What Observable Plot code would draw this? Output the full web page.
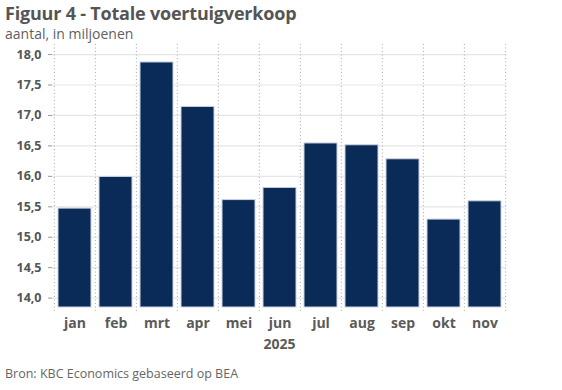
<!DOCTYPE html>
<html>
<head>
<meta charset="utf-8">
<script src="https://cdn.jsdelivr.net/npm/d3@7"></script>
<script src="https://cdn.jsdelivr.net/npm/@observablehq/plot@0.6"></script>
<style>
  html, body { margin: 0; padding: 0; background: #fff; }
  #wrap { width: 562px; height: 390px; position: relative; overflow: hidden; font-family: "Open Sans", sans-serif; }
  #title { height: 25px; padding-left: 5px; font-size: 18px; font-weight: 700; color: #555; line-height: 24px; padding-top: 1px; box-sizing: border-box; letter-spacing: -0.2px; }
  #subtitle { height: 19px; padding-left: 5px; font-size: 14px; color: #5f5f5f; line-height: 18px; box-sizing: border-box; }
  #caption { position: absolute; left: 5px; top: 366px; font-size: 12.5px; color: #666; line-height: 16px; }
  svg { display: block; }
</style>
</head>
<body>
<div id="wrap">
  <div id="title">Figuur 4 - Totale voertuigverkoop</div>
  <div id="subtitle">aantal, in miljoenen</div>
  <div id="chart"></div>
  <div id="caption">Bron: KBC Economics gebaseerd op BEA</div>
</div>
<script>
const months = ["jan", "feb", "mrt", "apr", "mei", "jun", "jul", "aug", "sep", "okt", "nov"];
const sales = [15.47, 15.99, 17.87, 17.14, 15.61, 15.81, 16.54, 16.51, 16.28, 15.29, 15.59];
const yTicks = [14.0, 14.5, 15.0, 15.5, 16.0, 16.5, 17.0, 17.5, 18.0];
const yearLabel = ["2025"];

const data = months.map((m, i) => ({month: m, value: sales[i]}));

const W = 562, ML = 52, MR = 56;
const step = (W - ML - MR) / months.length; // paddingInner 0.2, paddingOuter 0.1 => n steps
const fmt = d => d.toFixed(1).replace(".", ",");
const yDomain = [13.846, 18.165];

const chart = Plot.plot({
  width: W,
  height: 320,
  marginLeft: ML,
  marginRight: MR,
  marginTop: 0,
  marginBottom: 57,
  style: {fontFamily: "Open Sans, sans-serif", background: "#fff", overflow: "visible"},
  x: {type: "band", domain: months, paddingInner: 0.2, paddingOuter: 0.1},
  y: {domain: yDomain, ticks: yTicks},
  marks: [
    Plot.gridY(yTicks, {stroke: "#e6e6e6", strokeOpacity: 1, strokeWidth: 1.2}),
    Plot.ruleX(months, {x: d => d, dx: -step / 2, y1: yDomain[1], y2: yDomain[0], insetBottom: -4, stroke: "#aaa", strokeDasharray: "1,2.5", strokeWidth: 1}),
    Plot.ruleX([months[months.length - 1]], {x: d => d, dx: step / 2, y1: yDomain[1], y2: yDomain[0], insetBottom: -4, stroke: "#aaa", strokeDasharray: "1,2.5", strokeWidth: 1}),
    Plot.barY(data, {x: "month", y1: yDomain[0], y2: "value", fill: "#0a2a58", stroke: "#c9d3e0", strokeWidth: 1}),
    Plot.axisY({ticks: yTicks, tickFormat: fmt, tickSize: 4, tickPadding: 7, stroke: "#999", fontSize: 12.5, fontWeight: 700, fill: "#555", label: null}),
    Plot.axisX({tickSize: 0, tickPadding: 11, fontSize: 14, fontWeight: 700, fill: "#5a5a5a", label: null}),
    Plot.text(yearLabel, {frameAnchor: "bottom", dy: 37, lineAnchor: "middle", fontSize: 14, fontWeight: 700, fill: "#5a5a5a", text: d => d})
  ]
});
document.getElementById("chart").appendChild(chart);
</script>
</body>
</html>
